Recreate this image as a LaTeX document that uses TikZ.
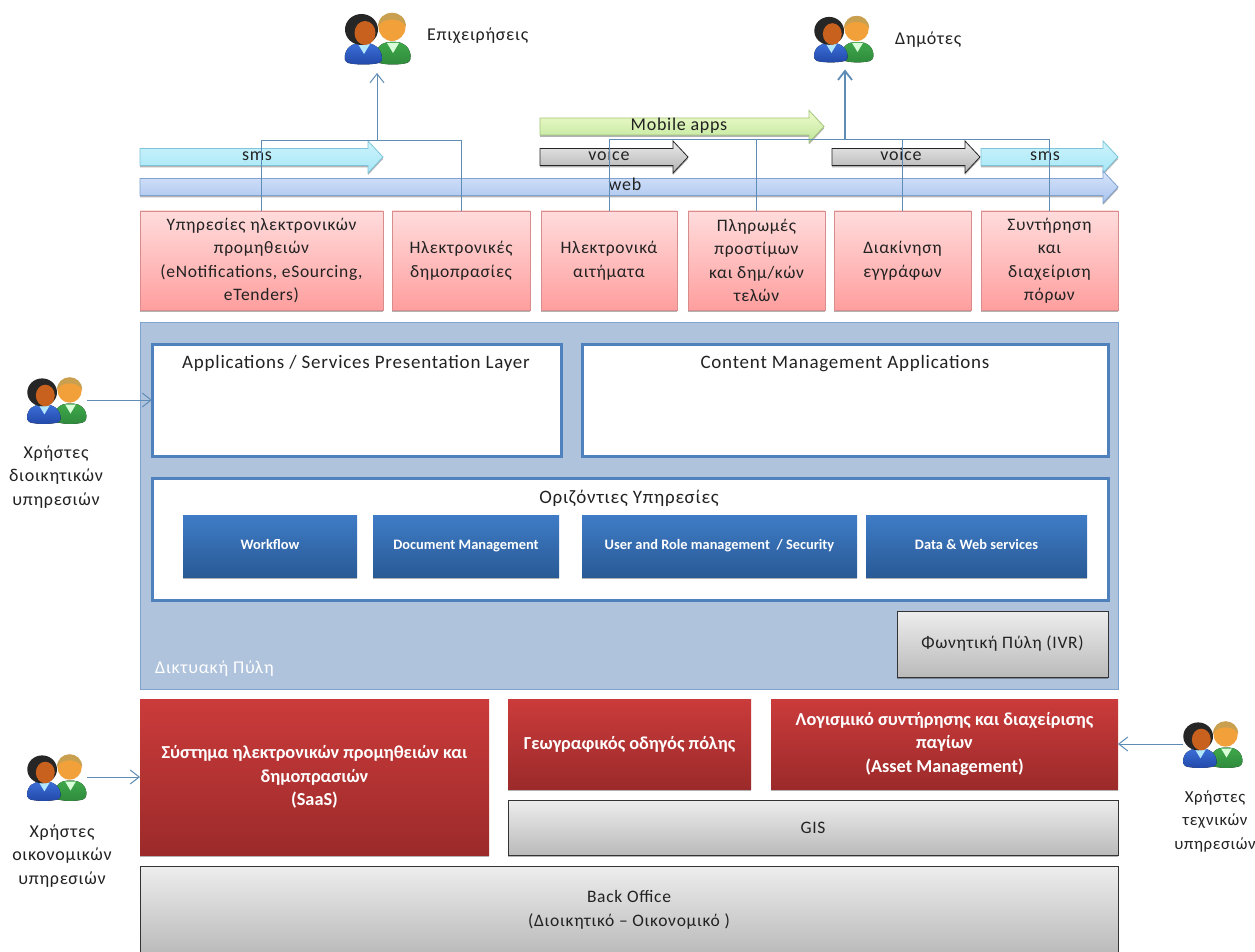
\documentclass[tikz,border=0pt]{standalone}
\usepackage{fontspec}
\setmainfont[LetterSpace=4]{Carlito}
\newfontfamily\tightfont{Carlito}
\usetikzlibrary{shadows,arrows.meta}
\definecolor{conn}{HTML}{5F8CB4}
\definecolor{frameblue}{HTML}{4F81BD}
\definecolor{txt}{HTML}{222222}
\definecolor{portalfill}{HTML}{AFC3DD}
\definecolor{portalline}{HTML}{7FA2D0}
\definecolor{svctop}{HTML}{FFDCDC}
\definecolor{svcbot}{HTML}{FF9E9E}
\definecolor{svcline}{HTML}{D98C8C}
\definecolor{redtop}{HTML}{CB3B3B}
\definecolor{redbot}{HTML}{9C2A2A}
\definecolor{bluetop}{HTML}{3F7CC6}
\definecolor{bluebot}{HTML}{295A96}
\definecolor{smstop}{HTML}{CDF4FC}
\definecolor{smsbot}{HTML}{A6E6F6}
\definecolor{smsline}{HTML}{7FC4D8}
\definecolor{webtop}{HTML}{D8E4FA}
\definecolor{webbot}{HTML}{A9C4EE}
\definecolor{mobtop}{HTML}{F0FBCC}
\definecolor{mobbot}{HTML}{BFE69C}
\definecolor{mobline}{HTML}{A4C67A}
\definecolor{manbody}{HTML}{3FA84A}
\definecolor{manbodyd}{HTML}{2E8A3C}
\definecolor{manface}{HTML}{F2A03A}
\definecolor{manhair}{HTML}{C9A050}
\definecolor{wbody}{HTML}{3C6FD8}
\definecolor{wbodyd}{HTML}{2148A8}
\definecolor{wface}{HTML}{C8601E}
\definecolor{whair}{HTML}{262626}
\tikzset{
  softshadow/.style={drop shadow={shadow xshift=0pt,shadow yshift=-2pt,fill=black,opacity=.3}},
  boxbase/.style={anchor=north west,inner sep=0pt,outer sep=0pt,align=center,text=txt,font=\fontsize{17.5}{23.5}\selectfont},
  service/.style={boxbase,softshadow,draw=svcline,line width=.8pt,top color=svctop,bottom color=svcbot},
  graybox/.style={boxbase,softshadow,draw=black!80,line width=.8pt,top color=black!7,bottom color=black!27},
  redbox/.style={boxbase,softshadow,top color=redtop,bottom color=redbot,text=white,font=\tightfont\bfseries\fontsize{18.3}{23.5}\selectfont},
  bluebox/.style={boxbase,softshadow,top color=bluetop,bottom color=bluebot,text=white,text height=10pt,text depth=3pt,font=\tightfont\bfseries\fontsize{14.4}{16}\selectfont},
  framebox/.style={boxbase,draw=frameblue,line width=3pt,fill=white},
  portal/.style={boxbase,fill=portalfill,draw=portalline,line width=.8pt},
  label/.style={inner sep=0pt,align=center,text=txt,font=\fontsize{18}{23.5}\selectfont},
  arrowlabel/.style={label,text height=12pt,text depth=4pt},
  sidelabel/.style={label,font=\fontsize{16.8}{23.5}\selectfont},
  titlelabel/.style={label,text height=13pt,text depth=4pt,font=\fontsize{19}{23.5}\selectfont},
  conline/.style={draw=conn,line width=1pt},
  conarrow/.style={conline,-{Straight Barb[length=9pt,width=14pt]}},
  conarrowthick/.style={conarrow,line width=1.8pt},
  slot/.style={inner sep=0pt,outer sep=0pt,minimum width=60pt,minimum height=50pt},
  arrowbase/.style={softshadow,line width=.8pt},
  smsarrow/.style={arrowbase,draw=smsline,top color=smstop,bottom color=smsbot},
  webarrow/.style={arrowbase,draw=portalline,top color=webtop,bottom color=webbot},
  voicearrow/.style={arrowbase,draw=black!85,top color=black!8,bottom color=black!30},
  mobilearrow/.style={arrowbase,draw=mobline,top color=mobtop,bottom color=mobbot},
  pics/people/.style={code={
    % man, behind
    \fill[top color=manbody,bottom color=manbodyd,rounded corners=3pt] (-2,24) .. controls (-4,8) and (6,4) .. (15,4) .. controls (25,4) and (34,10) .. (32,24) .. controls (22,27) and (8,27) .. (-2,24) -- cycle;
    \fill[white!85!green] (9,5) -- (15,15) -- (21,5) -- cycle;
    \fill[manface] (14,-11) circle[x radius=13.5,y radius=14];
    \fill[manhair] (0,-11) .. controls (0,-30) and (28,-30) .. (28,-11) .. controls (24,-21) and (4,-21) .. (0,-11) -- cycle;
    % woman, in front
    \fill[top color=wbody,bottom color=wbodyd,rounded corners=3pt] (-33,24) .. controls (-34,9) and (-24,5) .. (-15,5) .. controls (-6,5) and (4,9) .. (4,24) .. controls (-6,27) and (-23,27) .. (-33,24) -- cycle;
    \fill[cyan!30!white] (-20,6) -- (-14,16) -- (-8,6) -- cycle;
    \fill[whair] (-16.5,-8.5) circle[x radius=16.5,y radius=15.5];
    \fill[wface] (-13,-5) circle[x radius=10.5,y radius=12];
  }}
}
\newcommand{\blockarrow}[7]{% style,name,x1,x2,yc,text x,text
  \path[#1] (#3,#5-8.5) -- (#4-15,#5-8.5) -- (#4-15,#5-16) -- (#4,#5) -- (#4-15,#5+16) -- (#4-15,#5+8.5) -- (#3,#5+8.5) -- cycle;
  \node[arrowlabel] (#2) at (#6,#5) {#7};
}
\begin{document}
\begin{tikzpicture}[x=1pt,y=-1pt]
\useasboundingbox (0,0) rectangle (1255,952);
\clip (0,0) rectangle (1255,952);
\fill[white] (0,0) rectangle (1255,952);

% users
\node[slot] (ubiz) at (378,38) {};
\pic at (ubiz) {people};
\node[label,anchor=west] (lbiz) at (427,36) {Επιχειρήσεις};
\node[slot] (ucit) at (844,38.5) {};
\pic[scale=.9] at (ucit) {people};
\node[label,anchor=west] (lcit) at (895,40) {Δημότες};
\node[slot] (uadm) at (57,400) {};
\pic[scale=.9] at (uadm) {people};
\node[label] (ladm) at (56,477) {Χρήστες\\διοικητικών\\υπηρεσιών};
\node[slot] (ufin) at (57,777) {};
\pic[scale=.9] at (ufin) {people};
\node[label] (lfin) at (62,856) {Χρήστες\\οικονομικών\\υπηρεσιών};
\node[slot] (utec) at (1213,744) {};
\pic[scale=.9] at (utec) {people};
\node[sidelabel] (ltec) at (1215,821) {Χρήστες\\τεχνικών\\υπηρεσιών};

% channel arrows
\blockarrow{mobilearrow}{mob}{540}{824}{126.5}{679}{Mobile apps}
\blockarrow{smsarrow}{smsa}{140}{383}{157}{257}{sms}
\blockarrow{voicearrow}{voa}{540}{688}{157}{609}{voice}
\blockarrow{voicearrow}{vob}{832}{980}{157}{901}{voice}
\blockarrow{smsarrow}{smsb}{981}{1118}{157}{1045}{sms}
\blockarrow{webarrow}{web}{140}{1118}{187}{625}{web}

% services
\node[service,minimum width=243pt,minimum height=99pt] (s1) at (140,211) {Υπηρεσίες ηλεκτρονικών\\προμηθειών\\(eNotifications, eSourcing,\\eTenders)};
\node[service,minimum width=138pt,minimum height=99pt] (s2) at (392,211) {Ηλεκτρονικές\\δημοπρασίες};
\node[service,minimum width=136pt,minimum height=99pt] (s3) at (541,211) {Ηλεκτρονικά\\αιτήματα};
\node[service,minimum width=137pt,minimum height=99pt] (s4) at (688,211) {Πληρωμές\\προστίμων\\και δημ/κών\\τελών};
\node[service,minimum width=137pt,minimum height=99pt] (s5) at (834,211) {Διακίνηση\\εγγράφων};
\node[service,minimum width=137pt,minimum height=99pt] (s6) at (981,211) {Συντήρηση\\και\\διαχείριση\\πόρων};

% connectors to user groups
\coordinate (busa) at (377,141);
\coordinate (busb) at (845,140);
\draw[conline] (s1.north) |- (busa);
\draw[conline] (s2.north) |- (busa);
\draw[conarrow,shorten >=10pt] (busa) -- (busa |- ubiz.south);
\draw[conline] (s3.north) |- (busb);
\draw[conline] (s4.north) |- (busb);
\draw[conline] (s5.north) |- (busb);
\draw[conline] (s6.north) |- (busb);
\draw[conarrowthick,shorten >=6pt] (busb) -- (busb |- ucit.south);

% portal
\node[portal,minimum width=978pt,minimum height=367pt] (portal) at (140,322) {};
\node[framebox,minimum width=409pt,minimum height=112pt] (a1) at (152,344) {};
\node[titlelabel] (a1t) at (356,364) {Applications / Services Presentation Layer};
\node[framebox,minimum width=526pt,minimum height=112pt] (a2) at (582,344) {};
\node[titlelabel] (a2t) at (845,364) {Content Management Applications};
\node[framebox,minimum width=956pt,minimum height=122pt] (h) at (152,478) {};
\node[titlelabel] (ht) at (629,499) {Οριζόντιες Υπηρεσίες};
\node[bluebox,minimum width=174pt,minimum height=62pt] (b1) at (183,515) {Workflow};
\node[bluebox,minimum width=186pt,minimum height=62pt] (b2) at (373,515) {Document Management};
\node[bluebox,minimum width=275pt,minimum height=62pt] (b3) at (582,515) {User and Role management \ / Security};
\node[bluebox,minimum width=221pt,minimum height=62pt] (b4) at (866,515) {Data \& Web services};
\node[graybox,minimum width=211pt,minimum height=66pt] (ivr) at (897,611) {Φωνητική Πύλη (IVR)};
\node[label,text=white,anchor=west] (pl) at (155,669) {Δικτυακή Πύλη};

% lower layers
\node[redbox,minimum width=349pt,minimum height=156pt] (r1) at (140,699) {Σύστημα ηλεκτρονικών προμηθειών και\\δημοπρασιών\\(SaaS)};
\node[redbox,minimum width=243pt,minimum height=90pt] (r2) at (508,699) {Γεωγραφικός οδηγός πόλης};
\node[redbox,minimum width=347pt,minimum height=90pt] (r3) at (771,699) {Λογισμικό συντήρησης και διαχείρισης\\παγίων\\(Asset Management)};
\node[graybox,minimum width=610pt,minimum height=55pt] (gis) at (508,800) {GIS};
\node[graybox,minimum width=978pt,minimum height=88pt] (bo) at (140,866) {Back Office\\(Διοικητικό -- Οικονομικό )};

% user arrows
\draw[conarrow] (uadm.east) -- (a1.west);
\draw[conarrow] (ufin.east) -- (r1.west);
\draw[conarrow] (utec.west) -- (r3.east);
\end{tikzpicture}
\end{document}
